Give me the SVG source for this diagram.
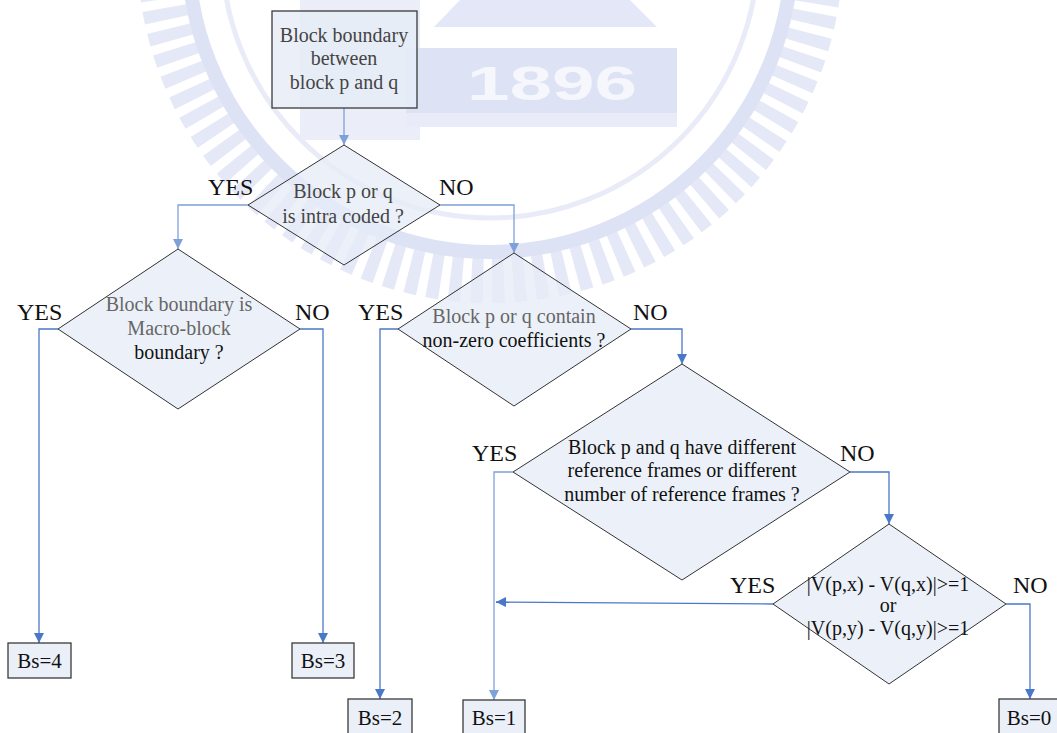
<svg xmlns="http://www.w3.org/2000/svg" width="1057" height="733" viewBox="0 0 1057 733">
  <defs>
    <marker id="arrow" viewBox="0 0 10 10" refX="10" refY="5" markerWidth="10" markerHeight="10" markerUnits="userSpaceOnUse" orient="auto">
      <path d="M0,0 L10,5 L0,10 z" fill="#4a78c8"/>
    </marker>
    <marker id="arrow-light" viewBox="0 0 10 10" refX="10" refY="5" markerWidth="10" markerHeight="10" markerUnits="userSpaceOnUse" orient="auto">
      <path d="M0,0 L10,5 L0,10 z" fill="#7fa0d8"/>
    </marker>
    <style>
      .node { fill: #e6ecf7; fill-opacity: 0.75; stroke: #333; stroke-width: 1; }
      .box { fill: #e6ecf7; fill-opacity: 0.85; stroke: #3a3a3a; stroke-width: 1.3; }
      .txt { font-family: "Liberation Serif", "Times New Roman", serif; font-size: 20px; text-anchor: middle; fill: #111; }
      .grey { fill: #666; }
      .dim { fill: #444; }
      .lbl { font-family: "Liberation Serif", "Times New Roman", serif; font-size: 24px; fill: #111; }
      .bs { font-family: "Liberation Serif", "Times New Roman", serif; font-size: 21px; text-anchor: middle; fill: #111; }
      .edge { fill: none; stroke: #4a78c8; stroke-width: 1.3; marker-end: url(#arrow); }
      .edge-light { fill: none; stroke: #7fa0d8; stroke-width: 1.3; marker-end: url(#arrow-light); }
      .wm { fill: none; }
    </style>
  </defs>

  <rect width="1057" height="733" fill="#ffffff"/>

  <!-- faint university emblem in the background -->
  <g id="watermark" opacity="0.85">
    <circle class="wm" cx="490" cy="-50" r="330" stroke="#e1e5f6" stroke-width="46" stroke-dasharray="12 9"/>
    <circle class="wm" cx="490" cy="-50" r="302" stroke="#d9def4" stroke-width="14"/>
    <circle class="wm" cx="490" cy="-50" r="268" stroke="#e6e9f7" stroke-width="5"/>
    <polygon points="460,0 630,0 657,27 434,27" fill="#dfe3f6"/>
    <rect x="300" y="0" width="120" height="140" fill="#e8ebf8"/>
    <rect x="406" y="48" width="271" height="70" fill="#d8def4"/>
    <rect x="406" y="113" width="271" height="14" fill="#e6e9f7"/>
    <text x="467" y="100" font-family="Liberation Sans, Arial, sans-serif" font-size="48" font-weight="bold" fill="#f4f6fc" textLength="170" lengthAdjust="spacingAndGlyphs">1896</text>
  </g>

  <!-- connectors -->
  <g id="connectors">
    <path class="edge-light" d="M344,108 V145"/>
    <path class="edge-light" d="M248,205 H178 V249"/>
    <path class="edge-light" d="M440,205 H514 V253"/>
    <path class="edge" d="M58,329 H39 V643"/>
    <path class="edge" d="M300,329 H323 V643"/>
    <path class="edge" d="M398,329 H380 V699"/>
    <path class="edge" d="M631,329 H682 V364"/>
    <path class="edge-light" d="M513,472 H494 V700"/>
    <path class="edge" d="M850,472 H889 V524"/>
    <path class="edge" d="M773,604 L496,602"/>
    <path class="edge" d="M1006,604 H1030 V699"/>
  </g>

  <!-- start box -->
  <g id="start">
    <rect class="box" x="272" y="11" width="145" height="97" stroke="#555"/>
    <text class="txt dim" x="344" y="42">Block boundary</text>
    <text class="txt dim" x="344" y="65">between</text>
    <text class="txt dim" x="344" y="89">block p and q</text>
  </g>

  <!-- decision: intra coded -->
  <g id="intra">
    <polygon class="node" points="344,145 440,205 344,265 248,205"/>
    <text class="txt dim" x="343" y="198">Block p or q</text>
    <text class="txt dim" x="343" y="223">is intra coded ?</text>
    <text class="lbl dim" x="208" y="195">YES</text>
    <text class="lbl dim" x="439" y="195">NO</text>
  </g>

  <!-- decision: macro-block boundary -->
  <g id="macroblock">
    <polygon class="node" points="178,249 300,329 178,409 58,329"/>
    <text class="txt grey" x="179" y="311">Block boundary is</text>
    <text class="txt grey" x="179" y="335">Macro-block</text>
    <text class="txt" x="179" y="359">boundary ?</text>
    <text class="lbl" x="17" y="320">YES</text>
    <text class="lbl" x="295" y="320" fill="#555">NO</text>
  </g>

  <!-- decision: non-zero coefficients -->
  <g id="coefficients">
    <polygon class="node" points="514,253 631,329 514,406 398,329"/>
    <text class="txt grey" x="514" y="323">Block p or q contain</text>
    <text class="txt" x="514" y="347">non-zero coefficients ?</text>
    <text class="lbl" x="358" y="320" fill="#555">YES</text>
    <text class="lbl" x="633" y="320" fill="#555">NO</text>
  </g>

  <!-- decision: reference frames -->
  <g id="refframes">
    <polygon class="node" points="682,364 850,472 682,580 513,472"/>
    <text class="txt" x="682" y="454">Block p and q have different</text>
    <text class="txt" x="682" y="477">reference frames or different</text>
    <text class="txt" x="682" y="501">number of reference frames ?</text>
    <text class="lbl" x="472" y="461">YES</text>
    <text class="lbl" x="840" y="461">NO</text>
  </g>

  <!-- decision: motion vector difference -->
  <g id="motion">
    <polygon class="node" points="889,524 1006,604 889,684 773,604"/>
    <text class="txt" x="888" y="591" font-size="17.5">|V(p,x) - V(q,x)|&gt;=1</text>
    <text class="txt" x="888" y="612" font-size="17.5">or</text>
    <text class="txt" x="888" y="635" font-size="17.5">|V(p,y) - V(q,y)|&gt;=1</text>
    <text class="lbl" x="730" y="593">YES</text>
    <text class="lbl" x="1013" y="593">NO</text>
  </g>

  <!-- boundary strength results -->
  <g id="bs4">
    <rect class="box" x="8" y="643" width="63" height="35"/>
    <text class="bs" x="39.5" y="668">Bs=4</text>
  </g>
  <g id="bs3">
    <rect class="box" x="292" y="643" width="62" height="35"/>
    <text class="bs" x="323" y="668">Bs=3</text>
  </g>
  <g id="bs2">
    <rect class="box" x="348" y="699" width="64" height="40"/>
    <text class="bs" x="380" y="725">Bs=2</text>
  </g>
  <g id="bs1">
    <rect class="box" x="463" y="700" width="62" height="40"/>
    <text class="bs" x="494" y="725">Bs=1</text>
  </g>
  <g id="bs0">
    <rect class="box" x="999" y="699" width="62" height="40"/>
    <text class="bs" x="1029" y="725">Bs=0</text>
  </g>
</svg>
